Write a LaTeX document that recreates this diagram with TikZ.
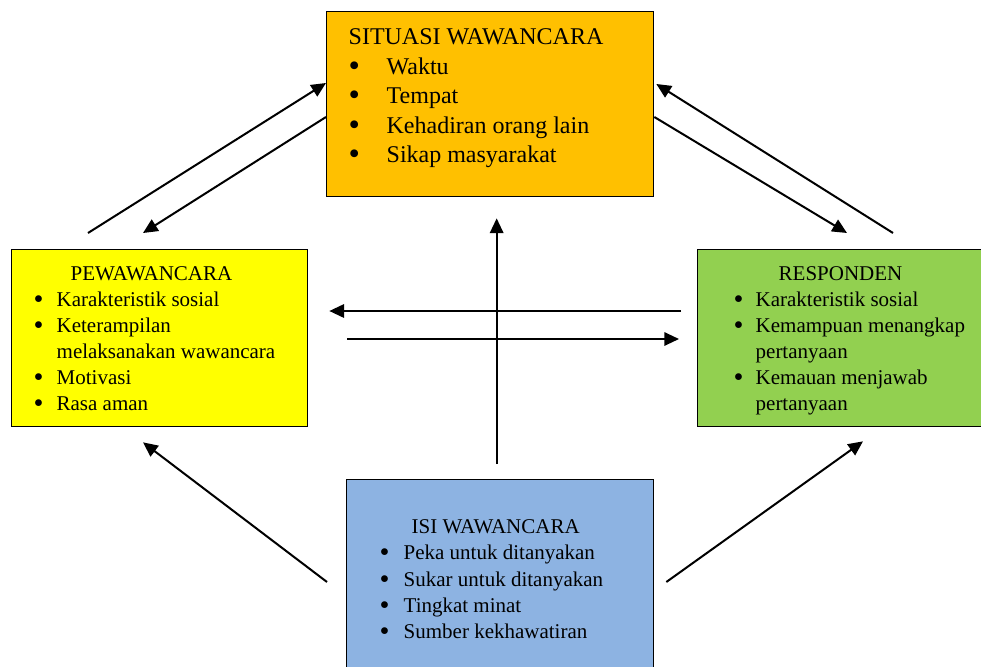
\documentclass[tikz,border=0pt]{standalone}
\usepackage{fontspec}
\setmainfont{Liberation Serif}
\usetikzlibrary{calc,arrows.meta}

\definecolor{oranye}{HTML}{FFC000}
\definecolor{kuning}{HTML}{FFFF00}
\definecolor{hijau}{HTML}{92D050}
\definecolor{biru}{HTML}{8DB3E2}

\newcommand{\butir}[2]{\makebox[#1][l]{\raisebox{-0.09em}{\scalebox{1.35}{\textbullet}}}#2}

\begin{document}
\begin{tikzpicture}[x=0.75pt, y=-0.75pt,
  box/.style={rectangle, draw, line width=1pt, inner sep=0pt, anchor=north west},
  arrow/.style={-{Triangle[length=11pt,width=10pt]}, line width=1.5pt}
]
  \useasboundingbox (0,0) rectangle (981,667);

  \node[box, fill=oranye] (situasi) at (326,11) {\parbox[t][138.75pt][t]{245.25pt}{%
    \fontsize{18}{22.1}\selectfont\leftskip=16.5pt
    \rule{0pt}{24.75pt}SITUASI WAWANCARA\\
    \butir{28.5pt}{Waktu}\\
    \butir{28.5pt}{Tempat}\\
    \butir{28.5pt}{Kehadiran orang lain}\\
    \butir{28.5pt}{Sikap masyarakat}}};
  \node[box, fill=kuning] (pewawancara) at (11,249) {\parbox[t][132.75pt][t]{222pt}{%
    \fontsize{15.75}{19.5}\selectfont\leftskip=16.5pt
    \rule{0pt}{23.25pt}\hspace*{27.75pt}PEWAWANCARA\\
    \butir{17.25pt}{Karakteristik sosial}\\
    \butir{17.25pt}{Keterampilan}\\
    \hspace*{17.25pt}melaksanakan wawancara\\
    \butir{17.25pt}{Motivasi}\\
    \butir{17.25pt}{Rasa aman}}};
  \node[box, fill=hijau] (responden) at (697,249) {\parbox[t][132.75pt][t]{213.75pt}{%
    \fontsize{15.75}{19.5}\selectfont\leftskip=27pt
    \rule{0pt}{23.25pt}\hspace*{33.75pt}RESPONDEN\\
    \butir{16.5pt}{Karakteristik sosial}\\
    \butir{16.5pt}{Kemampuan menangkap}\\
    \hspace*{16.5pt}pertanyaan\\
    \butir{16.5pt}{Kemauan menjawab}\\
    \hspace*{16.5pt}pertanyaan}};
  \node[box, fill=biru] (isi) at (346,479) {\parbox[t][142.5pt][t]{230.25pt}{%
    \fontsize{15.75}{19.7}\selectfont\leftskip=24.75pt
    \rule{0pt}{40.5pt}\hspace*{24pt}ISI WAWANCARA\\
    \butir{18pt}{Peka untuk ditanyakan}\\
    \butir{18pt}{Sukar untuk ditanyakan}\\
    \butir{18pt}{Tingkat minat}\\
    \butir{18pt}{Sumber kekhawatiran}}};

  % situasi <-> pewawancara, situasi <-> responden
  \draw[arrow] ($(pewawancara.north west)+(77,-16)$) -- ($(situasi.north west)+(0,72)$);
  \draw[arrow] ($(situasi.north west)+(0,106)$) -- ($(pewawancara.north west)+(132,-16)$);
  \draw[arrow] ($(responden.north west)+(196,-16)$) -- ($(situasi.north east)+(2,73)$);
  \draw[arrow] ($(situasi.north east)+(0,106)$) -- ($(responden.north west)+(150,-16)$);

  % pewawancara <-> responden
  \draw[arrow] ($(responden.north west)+(-16,62)$) -- ($(pewawancara.north east)+(21,62)$);
  \draw[arrow] ($(pewawancara.north east)+(39,90)$) -- ($(responden.north west)+(-18,90)$);

  % isi -> yang lain
  \draw[arrow] ($(isi.north)+(-3.5,-15)$) -- ($(situasi.south)+(6.5,21)$);
  \draw[arrow] ($(isi.north west)+(-19,103)$) -- ($(pewawancara.south west)+(132,15)$);
  \draw[arrow] ($(isi.north east)+(12,103)$) -- ($(responden.south west)+(166,14)$);
\end{tikzpicture}
\end{document}
